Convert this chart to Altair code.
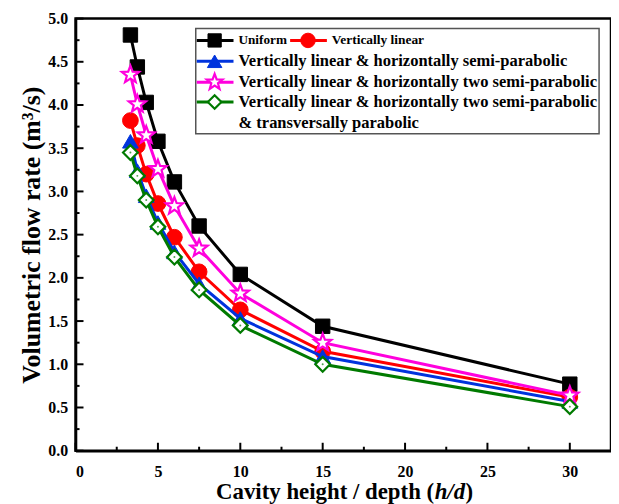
import math
import altair as alt
import pandas as pd

# ---- data ----
hd = [3.33, 3.75, 4.29, 5, 6, 7.5, 10, 15, 30]
uniform = [4.81, 4.44, 4.03, 3.58, 3.11, 2.60, 2.04, 1.44, 0.77]
vert_linear = [3.82, 3.53, 3.20, 2.86, 2.47, 2.07, 1.63, 1.15, 0.62]
vl_semi = [3.58, 3.24, 2.95, 2.64, 2.30, 1.93, 1.53, 1.09, 0.57]
vl_two_semi = [4.35, 4.01, 3.65, 3.26, 2.83, 2.34, 1.82, 1.25, 0.64]
vl_two_semi_trans = [3.45, 3.18, 2.90, 2.59, 2.24, 1.86, 1.45, 1.00, 0.51]

series_names = [
    "Uniform",
    "Vertically linear",
    "Vertically linear & horizontally semi-parabolic",
    "Vertically linear & horizontally two semi-parabolic",
    "Vertically linear & horizontally two semi-parabolic & transversally parabolic",
]
series_values = [uniform, vert_linear, vl_semi, vl_two_semi, vl_two_semi_trans]

x_ticks = [0, 5, 10, 15, 20, 25, 30]
y_ticks = [0.0, 0.5, 1.0, 1.5, 2.0, 2.5, 3.0, 3.5, 4.0, 4.5, 5.0]
x_title_roman = "Cavity height / depth ("
x_title_italic = "h/d"
x_title_close = ")"
y_title = "Volumetric flow rate (m³/s)"

# ---- styling ----
W, H = 539, 435
FONT = "Liberation Serif"
colors = ["#000000", "#ff0000", "#0033dd", "#ff00dd", "#007a00"]


def star_path(n=5, inner=0.42):
    pts = []
    for k in range(2 * n):
        a = math.radians(-90 + 180.0 / n * k)
        r = 1.0 if k % 2 == 0 else inner
        pts.append(f"{r*math.cos(a):.3f},{r*math.sin(a):.3f}")
    return "M" + "L".join(pts) + "Z"


shapes = ["square", "circle", "triangle-up", star_path(), "diamond"]
fills = ["#000000", "#ff0000", "#0033dd", "#ffffff", "#ffffff"]
sizes = [210, 250, 250, 330, 220]

xs = alt.Scale(domain=[0, 32.5], nice=False, zero=False)
ys = alt.Scale(domain=[0, 5], nice=False)

layers = []
for i, (name, vals) in enumerate(zip(series_names, series_values)):
    df = pd.DataFrame({"hd": hd, "q": vals})
    base = alt.Chart(df)
    enc = dict(
        x=alt.X("hd:Q", scale=xs),
        y=alt.Y("q:Q", scale=ys),
    )
    if i == 0:
        enc["x"] = alt.X(
            "hd:Q", scale=xs,
            axis=alt.Axis(values=x_ticks, format="d", title=None,
                          ticks=False, grid=False, labelPadding=13,
                          domainWidth=2.5, domainColor="black"),
        )
        enc["y"] = alt.Y(
            "q:Q", scale=ys,
            axis=alt.Axis(values=y_ticks, format=".1f", title=y_title,
                          ticks=False, grid=False, labelPadding=8, titlePadding=3,
                          domainWidth=2.5, domainColor="black"),
        )
    line = base.mark_line(color=colors[i], strokeWidth=3).encode(**enc)
    pts = base.mark_point(
        shape=shapes[i], size=sizes[i], filled=True, fill=fills[i],
        stroke=colors[i], strokeWidth=2.2 if i >= 3 else 1, opacity=1,
    ).encode(x=alt.X("hd:Q", scale=xs), y=alt.Y("q:Q", scale=ys))
    layers += [line, pts]

# small dot inside diamonds
dot_df = pd.DataFrame({"hd": hd, "q": vl_two_semi_trans})
layers.append(alt.Chart(dot_df).mark_point(shape="circle", size=4, filled=True, color="#007a00")
              .encode(x=alt.X("hd:Q", scale=xs), y=alt.Y("q:Q", scale=ys)))

# ---- inward ticks ----
xmaj = pd.DataFrame({"t": x_ticks})
xmin = pd.DataFrame({"t": [2.5, 7.5, 12.5, 17.5, 22.5, 27.5]})
ymaj = pd.DataFrame({"t": y_ticks})
ymin = pd.DataFrame({"t": [0.25 + 0.5 * k for k in range(10)]})
for df, ln in [(xmaj, 8), (xmin, 4)]:
    layers.append(alt.Chart(df).mark_rule(color="black", strokeWidth=2).encode(
        x=alt.X("t:Q", scale=xs), y=alt.value(H), y2=alt.value(H - ln)))
for df, ln in [(ymaj, 8), (ymin, 4)]:
    layers.append(alt.Chart(df).mark_rule(color="black", strokeWidth=2).encode(
        y=alt.Y("t:Q", scale=ys), x=alt.value(0), x2=alt.value(ln)))

one = pd.DataFrame({"a": [0]})

# ---- x axis title with italic h/d ----
TFS = 23
tx = 361
ty = H + 42
layers.append(alt.Chart(one).mark_text(
    text=x_title_roman, align="right", baseline="middle", font=FONT, fontWeight="bold",
    fontSize=TFS, color="black").encode(x=alt.value(tx), y=alt.value(ty)))
layers.append(alt.Chart(one).mark_text(
    text=x_title_italic, align="left", baseline="middle", font=FONT, fontWeight="bold",
    fontStyle="italic", fontSize=TFS, color="black").encode(x=alt.value(tx + 0.5), y=alt.value(ty)))
layers.append(alt.Chart(one).mark_text(
    text=x_title_close, align="left", baseline="middle", font=FONT, fontWeight="bold",
    fontSize=TFS, color="black").encode(x=alt.value(tx + 31.5), y=alt.value(ty)))

# ---- legend (drawn) ----
layers.append(alt.Chart(one).mark_rect(fill="white", stroke="#555555", strokeWidth=1.5).encode(
    x=alt.value(121), x2=alt.value(527), y=alt.value(10), y2=alt.value(116)))
entries = [
    (0, 122, 22, "Uniform", 13.3),
    (1, 216, 22, "Vertically linear", 13.5),
    (2, 122, 43, series_names[2], 16.6),
    (3, 122, 64, series_names[3], 16.6),
    (4, 122, 84, "Vertically linear & horizontally two semi-parabolic", 16.6),
]
for i, lx, ly, txt, fs in entries:
    layers.append(alt.Chart(one).mark_rule(color=colors[i], strokeWidth=3).encode(
        x=alt.value(lx), x2=alt.value(lx + 37), y=alt.value(ly)))
    layers.append(alt.Chart(one).mark_point(
        shape=shapes[i], size=sizes[i] * 0.85, filled=True, fill=fills[i],
        stroke=colors[i], strokeWidth=2.2 if i >= 3 else 1, opacity=1).encode(
        x=alt.value(lx + 18), y=alt.value(ly)))
    layers.append(alt.Chart(one).mark_text(
        text=txt, align="left", baseline="middle", font=FONT, fontWeight="bold",
        fontSize=fs, color="black").encode(x=alt.value(lx + 42), y=alt.value(ly)))
layers.append(alt.Chart(one).mark_text(
    text="& transversally parabolic", align="left", baseline="middle", font=FONT,
    fontWeight="bold", fontSize=16.6, color="black").encode(x=alt.value(164), y=alt.value(105)))

chart = alt.layer(*layers).properties(
    width=W, height=H,
    autosize=alt.AutoSizeParams(type="none"),
    padding={"left": 68, "top": 9, "right": 0, "bottom": 52},
).configure_view(stroke="black", strokeWidth=2.5).configure_axis(
    labelFont=FONT, labelFontSize=16, labelFontWeight="bold", labelColor="black",
    titleFont=FONT, titleFontSize=26, titleFontWeight="bold", titleColor="black",
)

chart.save("out.html", embed_options={"renderer": "svg", "actions": False})
